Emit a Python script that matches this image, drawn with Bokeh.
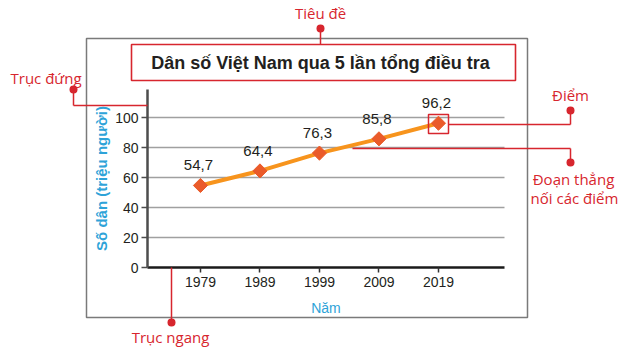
from bokeh.plotting import figure
from bokeh.models import Range1d, FixedTicker, Label, BoxAnnotation, Arrow
from bokeh.core.properties import value
from bokeh.embed import file_html
from bokeh.resources import INLINE
import math

# ---- data ----
years = [1979, 1989, 1999, 2009, 2019]
population = [54.7, 64.4, 76.3, 85.8, 96.2]
value_labels = ["54,7", "64,4", "76,3", "85,8", "96,2"]
y_ticks = [0, 20, 40, 60, 80, 100]
grid_ticks = [20, 40, 60, 80, 100]
title_text = "Dân số Việt Nam qua 5 lần tổng điều tra"
y_title = "Số dân (triệu người)"
x_title = "Năm"
callouts = ["Tiêu đề", "Trục đứng", "Trục ngang", "Điểm", "Đoạn thẳng", "nối các điểm"]

# ---- layout (canvas pixels) ----
W, H = 625, 354
FL, FR, FT, FB = 147, 504, 89, 267   # chart area edges on the canvas
X0, X1 = 1970.1, 2030.1              # value range of the chart area
Y0, Y1 = 0, 118.7

# whole canvas ranges (the frame fills the canvas; axes sit at fixed locations)
XA = X0 - FL * (X1 - X0) / (FR - FL)
XB = X0 + (W - FL) * (X1 - X0) / (FR - FL)
YA = Y0 - (H - FB) * (Y1 - Y0) / (FB - FT)
YB = Y1 + FT * (Y1 - Y0) / (FB - FT)

RED = "#d7262e"
BLUE = "#2ea3d8"
DARK = "#231f20"
SANS = "Liberation Sans"
CALL = "Open Sans"


def dx(cx):
    return X0 + (cx - FL) / (FR - FL) * (X1 - X0)


def dy(cy):
    return Y1 - (cy - FT) / (FB - FT) * (Y1 - Y0)


p = figure(width=W, height=H, x_range=Range1d(XA, XB), y_range=Range1d(YA, YB),
           output_backend="svg", toolbar_location=None, min_border=0)
p.background_fill_color = "white"
p.border_fill_color = "white"
p.outline_line_color = None
p.xgrid.visible = False

# axes
p.xaxis.fixed_location = Y0
p.xaxis.bounds = (X0, X1)
p.xaxis.ticker = FixedTicker(ticks=years)
p.xaxis.axis_line_color = "#1a1a1a"
p.xaxis.axis_line_width = 2.5
p.xaxis.major_tick_in = 0
p.xaxis.major_tick_out = 5
p.xaxis.major_tick_line_color = "#333333"
p.xaxis.major_tick_line_width = 1.5
p.xaxis.minor_tick_line_color = None
p.xaxis.major_label_text_font = SANS
p.xaxis.major_label_text_font_size = "14px"
p.xaxis.major_label_text_color = DARK
p.xaxis.major_label_standoff = 4
p.xaxis.axis_label = x_title
p.xaxis.axis_label_text_font = SANS
p.xaxis.axis_label_text_font_style = "normal"
p.xaxis.axis_label_text_font_size = "14px"
p.xaxis.axis_label_text_color = BLUE
p.xaxis.axis_label_standoff = 10

p.yaxis.fixed_location = X0
p.yaxis.bounds = (Y0, Y1)
p.yaxis.ticker = FixedTicker(ticks=y_ticks)
p.yaxis.axis_line_color = "#4d4d4d"
p.yaxis.axis_line_width = 2.5
p.yaxis.major_tick_in = 0
p.yaxis.major_tick_out = 6
p.yaxis.major_tick_line_color = "#4d4d4d"
p.yaxis.major_tick_line_width = 1.5
p.yaxis.minor_tick_line_color = None
p.yaxis.major_label_text_font = SANS
p.yaxis.major_label_text_font_size = "14px"
p.yaxis.major_label_text_color = DARK
p.yaxis.major_label_standoff = 3
p.yaxis.axis_label = y_title
p.yaxis.axis_label_text_font = SANS
p.yaxis.axis_label_text_font_style = "bold"
p.yaxis.axis_label_text_font_size = "15px"
p.yaxis.axis_label_text_color = BLUE
p.yaxis.axis_label_standoff = 2

p.ygrid.ticker = FixedTicker(ticks=grid_ticks)
p.ygrid.bounds = (Y0, Y1)
p.ygrid.cross_bounds = (X0, X1)
p.ygrid.grid_line_color = "#a0a0a0"
p.ygrid.grid_line_width = 1.5

# outer frame and title box
p.add_layout(BoxAnnotation(left=dx(86), right=dx(527), top=dy(38), bottom=dy(317),
                           fill_alpha=0, line_color="#7a7a7a", line_alpha=1,
                           line_width=1.5, level="underlay"))

# series
p.line(years, population, line_color="#f7941d", line_width=4)
p.scatter(years, population, marker="square", size=10, angle=math.pi / 4,
          fill_color="#ea5b2a", line_color="#ea5b2a")
p.text(x=years, y=population, text=value_labels, x_offset=-2, y_offset=-20,
       text_align="center", text_baseline="middle",
       text_font=value(SANS), text_font_size="15px", text_color=DARK)

p.add_layout(BoxAnnotation(left=dx(131), right=dx(515), top=dy(44), bottom=dy(80),
                           fill_color="white", fill_alpha=1, line_color=RED,
                           line_alpha=1, line_width=1.6))
p.add_layout(Label(x=dx(320), y=dy(62), text=title_text, text_align="center",
                   text_baseline="middle", text_font=SANS, text_font_style="bold",
                   text_font_size="18px", text_color=DARK))

# highlight square around the last point
p.add_layout(BoxAnnotation(left=dx(428), right=dx(448), top=dy(114), bottom=dy(133),
                           fill_alpha=0, line_color=RED, line_alpha=1, line_width=1.5))


def seg(a, b):
    p.add_layout(Arrow(end=None, x_start=dx(a[0]), y_start=dy(a[1]),
                       x_end=dx(b[0]), y_end=dy(b[1]),
                       line_color=RED, line_width=1.5))


def dot(c, r=4):
    p.add_layout(BoxAnnotation(left=dx(c[0] - r), right=dx(c[0] + r),
                               top=dy(c[1] - r), bottom=dy(c[1] + r),
                               border_radius=r, fill_color=RED, fill_alpha=1,
                               line_color=None))


def call(txt, c, align="center"):
    p.add_layout(Label(x=dx(c[0]), y=dy(c[1]), text=txt, text_align=align,
                       text_baseline="middle", text_font=CALL,
                       text_font_size="15px", text_color=RED))


# Tiêu đề
seg((320, 28), (320, 44)); dot((320, 28)); call(callouts[0], (320, 12))
# Trục đứng
seg((73, 89), (73, 105)); seg((73, 105), (147, 105)); dot((73, 89))
call(callouts[1], (10, 77), "left")
# Trục ngang
seg((171, 322), (171, 267)); dot((171, 322)); call(callouts[2], (170, 336))
# Điểm
seg((570, 110), (570, 124)); seg((570, 124), (448, 124)); dot((570, 110))
call(callouts[3], (570, 94))
# Đoạn thẳng nối các điểm
seg((570, 162), (570, 148)); seg((570, 148), (352, 148)); dot((570, 162))
call(callouts[4], (573, 178)); call(callouts[5], (574, 197))

open("out.html", "w").write(file_html(p, INLINE))
